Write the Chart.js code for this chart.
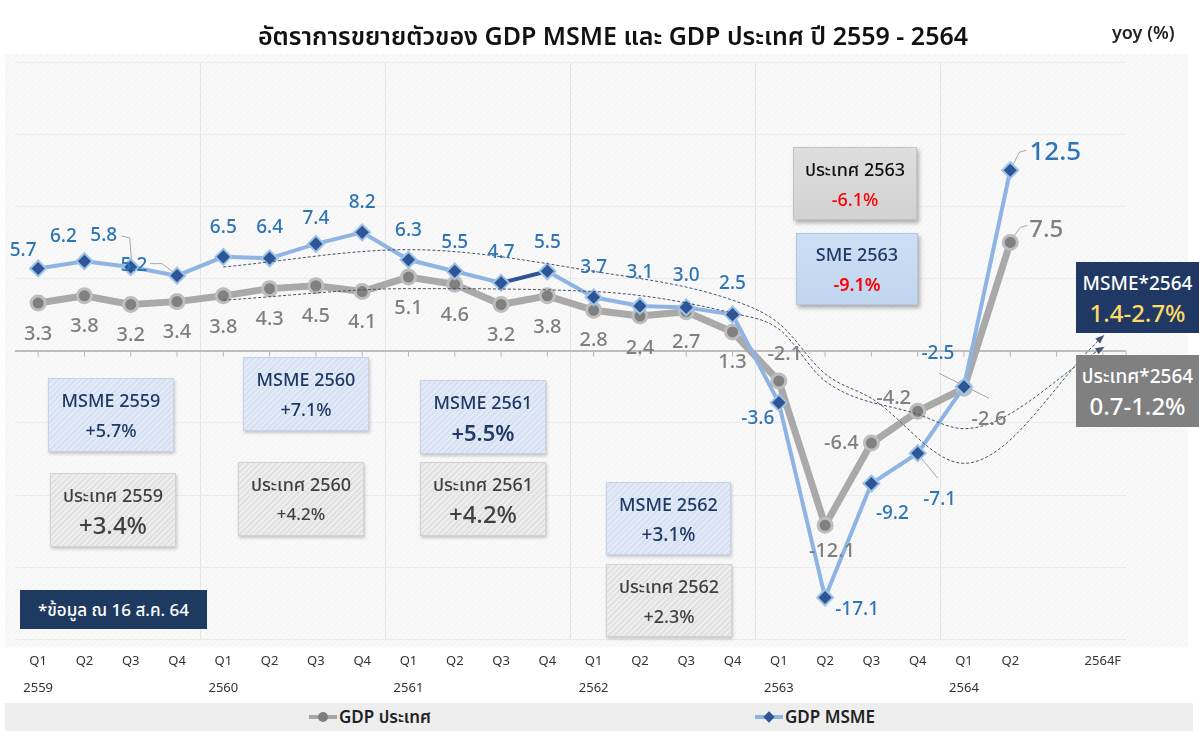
<!DOCTYPE html>
<html>
<head>
<meta charset="utf-8">
<script src="https://cdn.jsdelivr.net/npm/chart.js@4.4.1/dist/chart.umd.min.js"></script>
<style>
  body { margin: 0; background: #fff; font-family: 'Noto Sans', 'Noto Sans Thai', sans-serif; }
  #wrap { position: relative; width: 1199px; height: 731px; overflow: hidden; }
  #gdpChart { position: absolute; left: 0; top: 0; }
  .title { position: absolute; left: 0; top: 19px; width: 1226px; text-align: center; font-size: 25px; font-weight: 600; color: #111; line-height: 32px; }
  .unit { position: absolute; left: 1112px; top: 20px; font-size: 18px; font-weight: 600; color: #222; }
  .box { position: absolute; box-sizing: border-box; text-align: center; display: flex; flex-direction: column; justify-content: center; line-height: 30px; font-size: 18px; font-weight: 500; }
  .msme { background: repeating-linear-gradient(135deg, #e2ebf7 0 2px, #d5e1f2 2px 4px); border: 1px solid #c6d3e6; color: #1f3864; box-shadow: 1px 2px 3px rgba(0,0,0,.2); }
  .ctry { background: repeating-linear-gradient(135deg, #eeeeee 0 2px, #e1e1e1 2px 4px); border: 1px solid #d2d2d2; color: #404040; box-shadow: 1px 2px 3px rgba(0,0,0,.2); }
  .big { font-size: 24px; }
  .note { background: #1f3a60; color: #fff; font-size: 17px; }
  .c63 { background: linear-gradient(#dedede, #d2d2d2); border: 1px solid #c4c4c4; color: #111; box-shadow: 2px 3px 4px rgba(0,0,0,.3); }
  .s63 { background: linear-gradient(#cddff4, #c0d5ef); border: 1px solid #b4c7e2; color: #1f3864; box-shadow: 2px 3px 4px rgba(0,0,0,.3); }
  .red { color: #ff0000; }
  .f64m { background: #1f3864; color: #fff; font-size: 19px; }
  .f64c { background: #808080; color: #fff; font-size: 19px; }
  .legend { position: absolute; left: 5px; top: 703px; width: 1188px; height: 28px; background: #eeeeee; }
  .item { position: absolute; top: 0; height: 28px; line-height: 28px; font-size: 17px; font-weight: 600; color: #222; }
  .icon { position: absolute; top: 12px; width: 28px; height: 4px; }
  .icon i { position: absolute; left: 9px; top: -3px; width: 10px; height: 10px; }
</style>
</head>
<body>
<div id="wrap">
  <canvas id="gdpChart" width="1199" height="731"></canvas>
  <div class="title">อัตราการขยายตัวของ GDP MSME และ GDP ประเทศ ปี 2559 - 2564</div>
  <div class="unit">yoy (%)</div>

  <div class="box msme" style="left:48px;top:378px;width:126px;height:74px;"><div>MSME 2559</div><div>+5.7%</div></div>
  <div class="box ctry" style="left:50px;top:473px;width:126px;height:74px;"><div>ประเทศ 2559</div><div class="big">+3.4%</div></div>
  <div class="box msme" style="left:243px;top:357px;width:126px;height:74px;"><div>MSME 2560</div><div>+7.1%</div></div>
  <div class="box ctry" style="left:238px;top:462px;width:126px;height:74px;"><div>ประเทศ 2560</div><div style="font-size:17px">+4.2%</div></div>
  <div class="box msme" style="left:420px;top:380px;width:126px;height:74px;"><div>MSME 2561</div><div style="font-size:22px;font-weight:600">+5.5%</div></div>
  <div class="box ctry" style="left:420px;top:462px;width:126px;height:74px;"><div>ประเทศ 2561</div><div class="big">+4.2%</div></div>
  <div class="box msme" style="left:606px;top:482px;width:125px;height:73px;"><div>MSME 2562</div><div style="font-size:19px">+3.1%</div></div>
  <div class="box ctry" style="left:606px;top:564px;width:126px;height:73px;"><div>ประเทศ 2562</div><div>+2.3%</div></div>
  <div class="box note" style="left:20px;top:590px;width:187px;height:39px;">*ข้อมูล ณ 16 ส.ค. 64</div>
  <div class="box c63" style="left:793px;top:147px;width:124px;height:73px;"><div>ประเทศ 2563</div><div class="red">-6.1%</div></div>
  <div class="box s63" style="left:796px;top:233px;width:122px;height:72px;"><div>SME 2563</div><div class="red" style="font-weight:600">-9.1%</div></div>
  <div class="box f64m" style="left:1076px;top:262px;width:123px;height:71px;"><div>MSME*2564</div><div class="big" style="color:#ffd966">1.4-2.7%</div></div>
  <div class="box f64c" style="left:1076px;top:355px;width:123px;height:72px;"><div>ประเทศ*2564</div><div class="big">0.7-1.2%</div></div>

  <div class="legend">
    <div class="icon" style="left:304px;background:#a6a6a6;"><i style="background:#7f7f7f;border-radius:50%;"></i></div>
    <div class="item" style="left:334px;">GDP ประเทศ</div>
    <div class="icon" style="left:750px;background:#8db4e2;"><i style="background:#2f5597;transform:rotate(45deg);width:8px;height:8px;top:-2px;left:10px;"></i></div>
    <div class="item" style="left:780px;">GDP MSME</div>
  </div>
</div>

<script>
const quarters = ['Q1','Q2','Q3','Q4','Q1','Q2','Q3','Q4','Q1','Q2','Q3','Q4',
                  'Q1','Q2','Q3','Q4','Q1','Q2','Q3','Q4','Q1','Q2','','2564F'];
const years = ['2559','','','','2560','','','','2561','','','','2562','','','',
               '2563','','','','2564','','',''];

const gdpCountry = [3.3, 3.8, 3.2, 3.4, 3.8, 4.3, 4.5, 4.1, 5.1, 4.6, 3.2, 3.8,
                    2.8, 2.4, 2.7, 1.3, -2.1, -12.1, -6.4, -4.2, -2.6, 7.5, null, null];
const gdpMsme = [5.7, 6.2, 5.8, 5.2, 6.5, 6.4, 7.4, 8.2, 6.3, 5.5, 4.7, 5.5,
                 3.7, 3.1, 3.0, 2.5, -3.6, -17.1, -9.2, -7.1, -2.5, 12.5, null, null];

// dashed trend lines
const msmeTrend = [null, null, null, null, 5.8, null, null, null, 7.0, null, null, null,
                   5.5, null, null, 3.5, 1.9, -1.6, -3.3, null, -7.8, null, null, 1.0];
const countryTrend = [null, null, null, null, 3.5, null, null, null, 4.3, null, null, null,
                      4.1, null, null, 2.6, 1.5, -2.1, null, -4.4, -5.4, null, null, 0.2];

// label offsets from the point (px)
const grayDx = [0,0,0,0,0,0,0,0,0,0,0,0,0,0,0,0,6,7,-30,-24,25,36];
const grayDy = [31,30,31,31,31,31,31,31,31,31,31,31,30,32,31,30,-27,26,0,-13,31,-12];
const blueDx = [-15,-21,-27,-43,0,0,0,0,0,0,0,0,0,0,0,0,-21,32,21,22,-26,45];
const blueDy = [-18,-25,-31,-10,-29,-31,-25,-30,-29,-29,-30,-29,-30,-33,-32,-31,16,12,30,46,-33,-18];

// thin leader lines: dataset, point index, offsets from the point
const leaders = [
  [2, 2, [[-9, -31], [-1, -29], [1, -4]]],
  [2, 3, [[-27, -12], [-15, -12], [-3, -3]]],
  [2, 21, [[16, -20], [9, -18], [2, -4]]],
  [3, 21, [[17, -17], [10, -15], [2, -4]]],
  [3, 20, [[-25, -15], [25, 10]]],
  [2, 19, [[2, 3], [20, 25]]]
];

const FONT = "'Noto Sans', 'Noto Sans Thai', sans-serif";

function hatch() {
  const c = document.createElement('canvas');
  c.width = 6; c.height = 6;
  const g = c.getContext('2d');
  g.fillStyle = '#f9f9f9';
  g.fillRect(0, 0, 6, 6);
  g.strokeStyle = '#f1f1f1';
  g.beginPath();
  g.moveTo(0, 6); g.lineTo(6, 0);
  g.stroke();
  return g.createPattern(c, 'repeat');
}

const bgPlugin = {
  id: 'bg',
  beforeDraw(chart) {
    const {ctx, chartArea: a} = chart;
    ctx.save();
    ctx.fillStyle = hatch();
    ctx.fillRect(a.left - 10, a.top - 8, a.right - a.left + 72, a.bottom - a.top + 16);
    ctx.restore();
  }
};

const zeroTicks = {
  id: 'zeroTicks',
  beforeDatasetsDraw(chart) {
    const {ctx} = chart;
    const x = chart.scales.x;
    const y0 = chart.scales.y.getPixelForValue(0);
    ctx.save();
    ctx.strokeStyle = '#b8b8b8';
    ctx.lineWidth = 1;
    ctx.beginPath();
    quarters.forEach((q, i) => {
      const px = x.getPixelForValue(i);
      ctx.moveTo(px, y0);
      ctx.lineTo(px, y0 + 6);
    });
    ctx.moveTo(chart.chartArea.right, y0);
    ctx.lineTo(chart.chartArea.right, y0 + 6);
    ctx.stroke();
    // leader lines
    ctx.strokeStyle = '#a8a8a8';
    leaders.forEach(([di, i, path]) => {
      const p = chart.getDatasetMeta(di).data[i];
      ctx.beginPath();
      path.forEach(([dx, dy], k) => k ? ctx.lineTo(p.x + dx, p.y + dy) : ctx.moveTo(p.x + dx, p.y + dy));
      ctx.stroke();
    });
    ctx.restore();
  }
};

const arrows = {
  id: 'arrows',
  afterDatasetsDraw(chart) {
    const {ctx} = chart;
    [0, 1].forEach(di => {
      const pts = chart.getDatasetMeta(di).data;
      const p = pts[pts.length - 1];
      const ang = Math.atan2(p.y - p.cp1y, p.x - p.cp1x);
      ctx.save();
      ctx.translate(p.x, p.y);
      ctx.rotate(ang);
      ctx.fillStyle = '#44546a';
      ctx.beginPath();
      ctx.moveTo(2, 0);
      ctx.lineTo(-7, -3.5);
      ctx.lineTo(-7, 3.5);
      ctx.closePath();
      ctx.fill();
      ctx.restore();
    });
  }
};

const valueLabels = {
  id: 'valueLabels',
  afterDatasetsDraw(chart) {
    const {ctx} = chart;
    const sets = [
      {di: 3, vals: gdpCountry, dx: grayDx, dy: grayDy, color: '#7f7f7f', size: 20, last: 24},
      {di: 2, vals: gdpMsme, dx: blueDx, dy: blueDy, color: '#2e75b6', size: 19, last: 26}
    ];
    ctx.save();
    ctx.textAlign = 'center';
    ctx.textBaseline = 'middle';
    sets.forEach(s => {
      const pts = chart.getDatasetMeta(s.di).data;
      s.vals.forEach((v, i) => {
        if (v === null) return;
        const sz = i === 21 ? s.last : s.size;
        ctx.font = '500 ' + sz + 'px ' + FONT;
        ctx.fillStyle = s.color;
        ctx.fillText(v.toFixed(1), pts[i].x + s.dx[i], pts[i].y + s.dy[i]);
      });
    });
    ctx.restore();
  }
};

new Chart(document.getElementById('gdpChart'), {
  type: 'line',
  data: {
    labels: quarters,
    datasets: [
      {
        label: 'MSME trend',
        data: msmeTrend,
        borderColor: '#44546a',
        borderWidth: 1,
        borderDash: [3, 2],
        pointRadius: 0,
        spanGaps: true,
        cubicInterpolationMode: 'monotone'
      },
      {
        label: 'Country trend',
        data: countryTrend,
        borderColor: '#44546a',
        borderWidth: 1,
        borderDash: [3, 2],
        pointRadius: 0,
        spanGaps: true,
        cubicInterpolationMode: 'monotone'
      },
      {
        label: 'GDP MSME',
        data: gdpMsme,
        borderColor: '#8db4e2',
        borderWidth: 4,
        pointStyle: 'rectRot',
        pointRadius: 8,
        pointBackgroundColor: '#2f5597',
        pointBorderColor: '#9dc3e6',
        pointBorderWidth: 2,
        segment: {
          borderColor: c => c.p0DataIndex === 10 ? '#2f5597' : undefined
        }
      },
      {
        label: 'GDP ประเทศ',
        data: gdpCountry,
        borderColor: '#a9a9a9',
        borderWidth: 7,
        pointStyle: 'circle',
        pointRadius: 7,
        pointBackgroundColor: '#808080',
        pointBorderColor: '#bdbdbd',
        pointBorderWidth: 3
      }
    ]
  },
  options: {
    responsive: false,
    animation: false,
    layout: {padding: {top: 62, left: 15, right: 73, bottom: 21}},
    plugins: {
      legend: {display: false},
      tooltip: {enabled: false}
    },
    scales: {
      x: {
        offset: true,
        border: {display: false},
        grid: {
          offset: true,
          drawTicks: false,
          color: c => (c.index > 0 && c.index <= 20 && c.index % 4 === 0) ? '#e4e4e4' : 'rgba(0,0,0,0)'
        },
        ticks: {
          autoSkip: false,
          maxRotation: 0,
          padding: 8,
          color: '#333',
          font: {family: FONT, size: 13, lineHeight: 2.1},
          callback: (v, i) => [quarters[i], years[i]]
        }
      },
      y: {
        min: -20,
        max: 20,
        border: {display: false},
        grid: {
          drawTicks: false,
          color: c => c.tick.value === 0 ? '#bdbdbd' : '#ececec',
          lineWidth: c => c.tick.value === 0 ? 2 : 1
        },
        ticks: {display: false, stepSize: 5}
      }
    }
  },
  plugins: [bgPlugin, zeroTicks, arrows, valueLabels]
});
</script>
</body>
</html>
